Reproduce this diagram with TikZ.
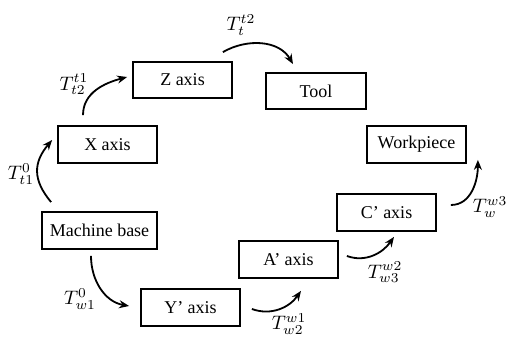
\documentclass[tikz,border=0pt]{standalone}
\usepackage{fontspec}
\setmainfont{Liberation Serif}
\usetikzlibrary{arrows.meta}
\begin{document}
\begin{tikzpicture}[x=1pt,y=1pt,
  box/.style={draw,line width=1.8pt,minimum width=99pt,minimum height=37pt,inner sep=0pt,font=\fontsize{18}{21}\selectfont},
  lab/.style={inner sep=0pt,scale=1.95,transform shape},
  conn/.style={line width=1.8pt,-{Stealth[length=10pt,width=8pt]}}]
\useasboundingbox (0,0) rectangle (509,339);
\node[box,minimum width=115pt] (base) at (99.5,108.5) {Machine base};
\node[box] (X) at (107.5,194.5) {X axis};
\node[box,minimum height=36pt] (Z) at (182.5,259) {Z axis};
\node[box,minimum width=100pt,minimum height=36pt] (tool) at (316,248) {Tool};
\node[box] (work) at (416.5,194.5) {Workpiece};
\node[box] (C) at (386.5,126.5) {C' axis};
\node[box] (A) at (288.5,79.5) {A' axis};
\node[box] (Y) at (190.5,31.5) {Y' axis};
\draw[conn] ([shift={(10,9)}]base.north west) to[out=130,in=230,looseness=1.2] ([shift={(-5,4.5)}]X.west);
\draw[conn] ([shift={(-24.5,10)}]X.north) to[out=90,in=195] ([shift={(-5,3)}]Z.west);
\draw[conn] ([shift={(-10,9)}]Z.north east) to[out=30,in=120] ([shift={(-23,8)}]tool.north);
\draw[conn] ([shift={(-8.5,-6)}]base.south) to[out=-90,in=170] ([shift={(-11,1.5)}]Y.west);
\draw[conn] ([shift={(11,-1.5)}]Y.east) to[out=-20,in=235] ([shift={(12.5,-12)}]A.south);
\draw[conn] ([shift={(8,3.5)}]A.east) to[out=-20,in=235] ([shift={(7.5,-5)}]C.south);
\draw[conn] ([shift={(14,7.5)}]C.east) to[out=0,in=-90] ([shift={(11,4)}]work.south east);
\node[lab] (l1) at (21,165) {$T_{t1}^{0}$};
\node[lab] (l2) at (74,254.5) {$T_{t2}^{t1}$};
\node[lab] (l3) at (241,314) {$T_{t}^{t2}$};
\node[lab] (l4) at (80,40) {$T_{w1}^{0}$};
\node[lab] (l5) at (289,15) {$T_{w2}^{w1}$};
\node[lab] (l6) at (385,66.5) {$T_{w3}^{w2}$};
\node[lab] (l7) at (490,132) {$T_{w}^{w3}$};
\end{tikzpicture}
\end{document}
